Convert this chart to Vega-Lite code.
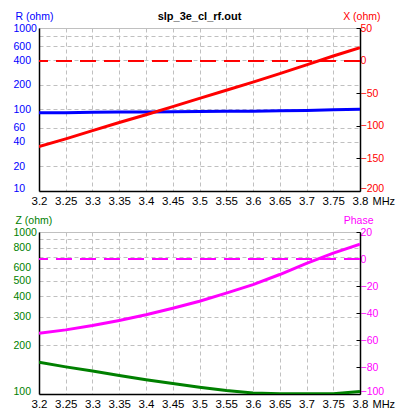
{
  "$schema": "https://vega.github.io/schema/vega-lite/v6.json",
  "autosize": {"type": "none"},
  "padding": {"left": 39, "top": 28, "right": 358, "bottom": 384},
  "background": "white",
  "data": {"values": [
    {"f": 3.2, "R": 91, "X": -132, "Z": 157, "P": -55},
    {"f": 3.25, "R": 91.5, "X": -120, "Z": 147, "P": -52.5},
    {"f": 3.3, "R": 92.5, "X": -107.5, "Z": 138.5, "P": -49.3},
    {"f": 3.35, "R": 93, "X": -95, "Z": 130, "P": -45.5},
    {"f": 3.4, "R": 93.5, "X": -83, "Z": 122.5, "P": -41.3},
    {"f": 3.45, "R": 94, "X": -70.5, "Z": 116, "P": -36.5},
    {"f": 3.5, "R": 94.5, "X": -58, "Z": 110, "P": -31.3},
    {"f": 3.55, "R": 95, "X": -45.5, "Z": 105, "P": -25.3},
    {"f": 3.6, "R": 95.5, "X": -33, "Z": 101.5, "P": -19},
    {"f": 3.65, "R": 96.5, "X": -20, "Z": 100.3, "P": -11.5},
    {"f": 3.7, "R": 97.5, "X": -6.5, "Z": 100.2, "P": -3.2},
    {"f": 3.75, "R": 99, "X": 7, "Z": 100.5, "P": 4.3},
    {"f": 3.8, "R": 100.5, "X": 20, "Z": 103.5, "P": 11}
  ]},
  "spacing": 41,
  "bounds": "flush",
  "vconcat": [
    {
      "width": 321,
      "height": 163,
      "title": {"text": "slp_3e_cl_rf.out", "font": "Liberation Sans", "fontSize": 11, "fontWeight": "bold", "color": "#000000", "anchor": "middle", "frame": "group", "baseline": "alphabetic", "offset": -20},
      "layer": [
        {
          "mark": {"type": "line", "color": "#0000ff", "strokeWidth": 3, "clip": true},
          "encoding": {
            "x": {"field": "f", "type": "quantitative", "scale": {"domain": [3.2, 3.8], "nice": false, "zero": false},
              "axis": {"values": [3.2, 3.25, 3.3, 3.35, 3.4, 3.45, 3.5, 3.55, 3.6, 3.65, 3.7, 3.75, 3.8], "format": "~g", "grid": true, "labelFontSize": 11.5, "labelColor": "#000000", "labelPadding": 4, "labelFlush": false,
                "title": "MHz", "titleX": 333, "titleY": 4, "titleAlign": "left", "titleBaseline": "top", "titleFontSize": 11, "titleColor": "#000000"}},
            "y": {"field": "R", "type": "quantitative", "scale": {"type": "log", "domain": [10, 1000], "nice": false},
              "axis": {"orient": "left", "values": [10, 20, 40, 60, 100, 200, 400, 600, 800, 1000], "format": "d", "labelExpr": "datum.value == 800 ? '' : datum.label", "grid": true,
                "labelAlign": "left", "labelPadding": 26, "labelBaseline": "middle", "labelFontSize": 10.5, "labelColor": "#0000ff", "labelFlush": false,
                "labelOffset": {"condition": {"test": "datum.value == 10", "value": -3}, "value": 0},
                "title": "R (ohm)", "titleAngle": 0, "titleX": -24, "titleY": -9, "titleAlign": "left", "titleBaseline": "alphabetic", "titleFontSize": 10.5, "titleColor": "#0000ff"}}
          }
        },
        {
          "layer": [
            {
              "mark": {"type": "rule", "color": "#ff0000", "strokeWidth": 1.2, "strokeDash": [16, 8]},
              "encoding": {
                "y": {"datum": 0, "type": "quantitative", "scale": {"domain": [-200, 50], "nice": false, "zero": false},
                  "axis": {"orient": "right", "values": [-200, -150, -100, -50, 0, 50], "grid": false, "labelPadding": 4, "labelFontSize": 10.5, "labelColor": "#ff0000", "labelBaseline": "middle", "labelFlush": false,
                    "labelOffset": {"condition": {"test": "datum.value == -200", "value": -3}, "value": 0},
                    "ticks": true, "tickSize": -4, "tickColor": "#000000",
                    "title": "X (ohm)", "titleAngle": 0, "titleX": 20, "titleY": -9, "titleAlign": "right", "titleBaseline": "alphabetic", "titleFontSize": 10.5, "titleColor": "#ff0000"}}
              }
            },
            {
              "mark": {"type": "line", "color": "#ff0000", "strokeWidth": 3, "clip": true},
              "encoding": {
                "x": {"field": "f", "type": "quantitative", "scale": {"domain": [3.2, 3.8], "nice": false, "zero": false},
                  "axis": {"values": [3.2, 3.25, 3.3, 3.35, 3.4, 3.45, 3.5, 3.55, 3.6, 3.65, 3.7, 3.75, 3.8], "format": "~g", "grid": true, "labelFontSize": 11.5, "labelColor": "#000000", "labelPadding": 4, "labelFlush": false,
                    "title": "MHz", "titleX": 333, "titleY": 4, "titleAlign": "left", "titleBaseline": "top", "titleFontSize": 11, "titleColor": "#000000"}},
                "y": {"field": "X", "type": "quantitative", "scale": {"domain": [-200, 50], "nice": false, "zero": false},
                  "axis": {"orient": "right", "values": [-200, -150, -100, -50, 0, 50], "grid": false, "labelPadding": 4, "labelFontSize": 10.5, "labelColor": "#ff0000", "labelBaseline": "middle", "labelFlush": false,
                    "labelOffset": {"condition": {"test": "datum.value == -200", "value": -3}, "value": 0},
                    "ticks": true, "tickSize": -4, "tickColor": "#000000",
                    "title": "X (ohm)", "titleAngle": 0, "titleX": 20, "titleY": -9, "titleAlign": "right", "titleBaseline": "alphabetic", "titleFontSize": 10.5, "titleColor": "#ff0000"}}
              }
            }
          ]
        }
      ],
      "resolve": {"scale": {"y": "independent"}}
    },
    {
      "width": 321,
      "height": 162,
      "layer": [
        {
          "mark": {"type": "line", "color": "#008000", "strokeWidth": 3, "clip": true},
          "encoding": {
            "x": {"field": "f", "type": "quantitative", "scale": {"domain": [3.2, 3.8], "nice": false, "zero": false},
              "axis": {"values": [3.2, 3.25, 3.3, 3.35, 3.4, 3.45, 3.5, 3.55, 3.6, 3.65, 3.7, 3.75, 3.8], "format": "~g", "grid": true, "labelFontSize": 11.5, "labelColor": "#000000", "labelPadding": 4, "labelFlush": false,
                "title": "MHz", "titleX": 333, "titleY": 4, "titleAlign": "left", "titleBaseline": "top", "titleFontSize": 11, "titleColor": "#000000"}},
            "y": {"field": "Z", "type": "quantitative", "scale": {"type": "log", "domain": [100, 1000], "nice": false},
              "axis": {"orient": "left", "values": [100, 200, 300, 400, 500, 600, 700, 800, 900, 1000], "format": "d", "labelExpr": "(datum.value == 700 || datum.value == 900) ? '' : datum.label", "grid": true,
                "labelAlign": "left", "labelPadding": 26, "labelBaseline": "middle", "labelFontSize": 10.5, "labelColor": "#008000", "labelFlush": false,
                "labelOffset": {"condition": {"test": "datum.value == 100", "value": -2.5}, "value": 0},
                "title": "Z (ohm)", "titleAngle": 0, "titleX": -24, "titleY": -9, "titleAlign": "left", "titleBaseline": "alphabetic", "titleFontSize": 10.5, "titleColor": "#008000"}}
          }
        },
        {
          "layer": [
            {
              "mark": {"type": "rule", "color": "#ff00ff", "strokeWidth": 1.2, "strokeDash": [16, 8]},
              "encoding": {
                "y": {"datum": 0, "type": "quantitative", "scale": {"domain": [-100, 20], "nice": false, "zero": false},
                  "axis": {"orient": "right", "values": [-100, -80, -60, -40, -20, 0, 20], "grid": false, "labelPadding": 4, "labelFontSize": 10.5, "labelColor": "#ff00ff", "labelBaseline": "middle", "labelFlush": false,
                    "labelOffset": {"condition": {"test": "datum.value == -100", "value": -2.5}, "value": 0},
                    "ticks": true, "tickSize": -4, "tickColor": "#000000",
                    "title": "Phase", "titleAngle": 0, "titleX": 13, "titleY": -9, "titleAlign": "right", "titleBaseline": "alphabetic", "titleFontSize": 10.5, "titleColor": "#ff00ff"}}
              }
            },
            {
              "mark": {"type": "line", "color": "#ff00ff", "strokeWidth": 3, "clip": true},
              "encoding": {
                "x": {"field": "f", "type": "quantitative", "scale": {"domain": [3.2, 3.8], "nice": false, "zero": false},
                  "axis": {"values": [3.2, 3.25, 3.3, 3.35, 3.4, 3.45, 3.5, 3.55, 3.6, 3.65, 3.7, 3.75, 3.8], "format": "~g", "grid": true, "labelFontSize": 11.5, "labelColor": "#000000", "labelPadding": 4, "labelFlush": false,
                    "title": "MHz", "titleX": 333, "titleY": 4, "titleAlign": "left", "titleBaseline": "top", "titleFontSize": 11, "titleColor": "#000000"}},
                "y": {"field": "P", "type": "quantitative", "scale": {"domain": [-100, 20], "nice": false, "zero": false},
                  "axis": {"orient": "right", "values": [-100, -80, -60, -40, -20, 0, 20], "grid": false, "labelPadding": 4, "labelFontSize": 10.5, "labelColor": "#ff00ff", "labelBaseline": "middle", "labelFlush": false,
                    "labelOffset": {"condition": {"test": "datum.value == -100", "value": -2.5}, "value": 0},
                    "ticks": true, "tickSize": -4, "tickColor": "#000000",
                    "title": "Phase", "titleAngle": 0, "titleX": 13, "titleY": -9, "titleAlign": "right", "titleBaseline": "alphabetic", "titleFontSize": 10.5, "titleColor": "#ff00ff"}}
              }
            }
          ]
        }
      ],
      "resolve": {"scale": {"y": "independent"}}
    }
  ],
  "config": {
    "view": {"stroke": "#c0c0c0", "strokeWidth": 1},
    "axis": {"labelFont": "Liberation Sans", "titleFont": "Liberation Sans", "titleFontWeight": "normal", "domainColor": "#000000", "domainWidth": 1.5, "gridColor": "#c0c0c0", "gridDash": [4, 3], "gridWidth": 1, "labelOverlap": false, "labelBound": false, "ticks": false}
  }
}
